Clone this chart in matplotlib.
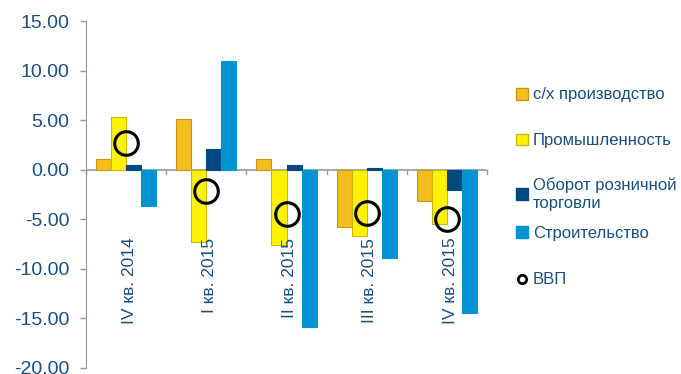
import matplotlib
matplotlib.use("Agg")
from matplotlib import pyplot as plt
from matplotlib.lines import Line2D
from matplotlib.patches import Patch
import numpy as np

plt.rcParams['font.family'] = ['Liberation Sans', 'DejaVu Sans']
plt.rcParams['axes.unicode_minus'] = False

quarters = ["IV кв. 2014", "I кв. 2015", "II кв. 2015", "III кв. 2015", "IV кв. 2015"]
agriculture = [1.1, 5.15, 1.1, -5.8, -3.2]
industry = [5.3, -7.25, -7.6, -6.65, -5.5]
retail = [0.5, 2.1, 0.5, 0.2, -2.0]
construction = [-3.7, 11.0, -15.9, -8.9, -14.5]
gdp = [2.7, -2.1, -4.45, -4.4, -4.95]

series_names = ["с/х производство", "Промышленность", "Оборот розничной\nторговли", "Строительство"]
colors = {'agri': '#F5BE1E', 'agri_edge': '#C9961A', 'ind': '#FFF200', 'ind_edge': '#C9B800',
          'retail': '#004A7F', 'constr': '#0093D3', 'text': '#1B4F7E', 'axis': '#8C9BAE'}

fig = plt.figure(figsize=(6.81, 3.74), dpi=100)
ax = fig.add_axes([86 / 681, 1 - 368 / 374, (487 - 86) / 681, (368 - 21) / 374])

x = np.arange(len(quarters))
w = 0.1875
bars = [
    (agriculture, colors['agri'], colors['agri_edge']),
    (industry, colors['ind'], colors['ind_edge']),
    (retail, colors['retail'], colors['retail']),
    (construction, colors['constr'], colors['constr']),
]
for k, (vals, fc, ec) in enumerate(bars):
    ax.bar(x + (k - 1.5) * w, vals, width=w, color=fc, edgecolor=ec, linewidth=0.8, zorder=2)

ax.plot(x, gdp, linestyle='none', marker='o', markersize=17, markerfacecolor='none',
        markeredgecolor='black', markeredgewidth=2.2, zorder=3)

ax.set_xlim(-0.5, len(quarters) - 0.5)
ax.set_ylim(-20, 15)
ax.set_yticks(np.arange(-20, 16, 5))
ax.set_yticklabels(["%.2f" % v for v in np.arange(-20, 16, 5)])
ax.tick_params(axis='y', colors=colors['axis'], labelcolor=colors['text'], labelsize=14,
               length=4, width=1, pad=8)
ax.set_xticks([])

for s in ['top', 'right', 'bottom']:
    ax.spines[s].set_visible(False)
ax.spines['left'].set_color(colors['axis'])
ax.axhline(0, color=colors['axis'], linewidth=1.2, zorder=1)
for b in np.arange(-0.5, len(quarters), 1.0):
    ax.plot([b, b], [0, -0.45], color=colors['axis'], linewidth=1, zorder=1, clip_on=False)

for i, q in enumerate(quarters):
    ax.text(x[i] + 0.04, -6.85, q, rotation=90, ha='center', va='top',
            fontsize=12.5, color=colors['text'], zorder=4)

# legend: one entry per legend so the rows sit where the reference has them
handles = [Patch(facecolor=fc, edgecolor=ec) for _, fc, ec in bars]
handles.append(Line2D([], [], linestyle='none', marker='o', markersize=6,
                      markerfacecolor='white', markeredgecolor='black', markeredgewidth=2))
labels = series_names + ["ВВП"]
rows_y = [95, 141, 194, 233, 280]
for h, lab, yy in zip(handles, labels, rows_y):
    leg = fig.legend([h], [lab], loc='center left', bbox_to_anchor=(516 / 681, 1 - yy / 374),
                     frameon=False, fontsize=12, handlelength=0.7, handleheight=0.7,
                     handletextpad=0.3, borderpad=0, borderaxespad=0)
    for t in leg.get_texts():
        t.set_color(colors['text'])

fig.savefig("out.png", dpi=100)
